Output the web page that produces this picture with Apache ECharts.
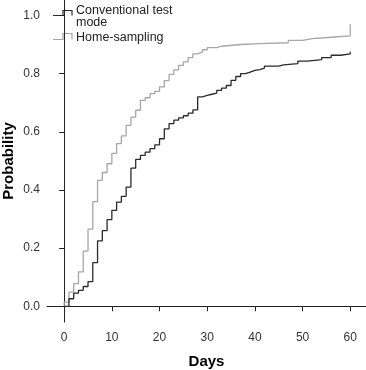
<!DOCTYPE html>
<html>
<head>
<meta charset="utf-8">
<script src="https://cdn.jsdelivr.net/npm/echarts@6/dist/echarts.min.js"></script>
<style>html,body{margin:0;padding:0;background:#fff}#c{width:366px;height:370px}</style>
</head>
<body>
<div id="c"></div>
<script>
// Conventional test mode (black)
var convDays = [0, 1, 2, 3, 4, 5, 6, 7, 8, 9, 10, 11, 12, 13, 14, 15, 16, 17, 18, 19, 20, 21, 22, 23, 24, 25, 26, 27, 28, 29, 30, 31, 32, 33, 34, 35, 36, 37, 38, 39, 40, 41, 42, 45, 46, 49, 51, 54, 56, 58, 60];
var convProb = [0, 0.026, 0.045, 0.055, 0.068, 0.085, 0.15, 0.225, 0.26, 0.298, 0.33, 0.358, 0.378, 0.41, 0.475, 0.505, 0.519, 0.53, 0.542, 0.555, 0.576, 0.61, 0.628, 0.64, 0.648, 0.655, 0.664, 0.675, 0.72, 0.725, 0.729, 0.733, 0.742, 0.75, 0.759, 0.777, 0.79, 0.80, 0.805, 0.811, 0.814, 0.819, 0.826, 0.83, 0.834, 0.843, 0.848, 0.855, 0.863, 0.868, 0.875];
// Home-sampling (gray)
var homeDays = [0, 0, 1, 2, 3, 4, 5, 6, 7, 8, 9, 10, 11, 12, 13, 14, 15, 16, 17, 18, 19, 20, 21, 22, 23, 24, 25, 26, 27, 28, 29, 30, 32, 33, 37, 41, 47, 50, 52, 56, 60];
var homeProb = [0, 0.014, 0.049, 0.078, 0.118, 0.19, 0.265, 0.36, 0.433, 0.46, 0.49, 0.526, 0.559, 0.586, 0.622, 0.65, 0.674, 0.708, 0.717, 0.731, 0.739, 0.754, 0.776, 0.797, 0.813, 0.828, 0.84, 0.855, 0.868, 0.874, 0.882, 0.889, 0.894, 0.9, 0.903, 0.906, 0.914, 0.92, 0.925, 0.93, 0.97];
var xTicks = [0, 10, 20, 30, 40, 50, 60];
var yTicks = [0, 0.2, 0.4, 0.6, 0.8, 1.0];
var seriesNames = ['Conventional test\nmode', 'Home-sampling'];

function pairs(a, b) { return a.map(function (v, i) { return [v, b[i]]; }); }

var chart = echarts.init(document.getElementById('c'), null, { renderer: 'canvas' });
var FONT = '"Liberation Sans", Arial, sans-serif';
chart.setOption({
  animation: false,
  backgroundColor: '#fff',
  grid: { left: 47, right: 0, top: 0, bottom: 48, containLabel: false, outerBoundsMode: 'none' },
  xAxis: {
    type: 'value', min: -3.6, max: 63.3,
    name: 'Days', nameLocation: 'middle', nameGap: 32, nameMoveOverlap: false,
    nameTextStyle: { fontFamily: FONT, fontSize: 15, fontWeight: 'bold', color: '#000' },
    splitLine: { show: false },
    axisLine: { show: true, lineStyle: { color: '#222', width: 1 } },
    axisTick: { show: true, length: 5, customValues: xTicks, lineStyle: { color: '#222' } },
    axisLabel: { customValues: xTicks, margin: 10, fontFamily: FONT, fontSize: 12, color: '#333' }
  },
  yAxis: {
    type: 'value', min: -0.054, max: 1.053,
    name: 'Probability', nameLocation: 'middle', nameGap: 31, nameMoveOverlap: false,
    nameTextStyle: { fontFamily: FONT, fontSize: 15, fontWeight: 'bold', color: '#000' },
    splitLine: { show: false },
    axisLine: { show: true, lineStyle: { color: '#222', width: 1 } },
    axisTick: { show: true, length: 5, customValues: yTicks, lineStyle: { color: '#222' } },
    axisLabel: { customValues: yTicks, margin: 7, fontFamily: FONT, fontSize: 12, color: '#333',
      formatter: function (v) { return v.toFixed(1); } }
  },
  series: [
    { name: seriesNames[1], type: 'line', step: 'end', showSymbol: false, symbol: 'none',
      data: pairs(homeDays, homeProb), lineStyle: { color: '#a6a6a6', width: 1.3 }, z: 2 },
    { name: seriesNames[0], type: 'line', step: 'end', showSymbol: false, symbol: 'none',
      data: pairs(convDays, convProb), lineStyle: { color: '#2a2a2a', width: 1.3 }, z: 3 }
  ],
  graphic: [
    { type: 'polyline', shape: { points: [[53, 15.5], [63, 15.5], [63, 10.5], [72, 10.5], [72, 15.5]] },
      style: { stroke: '#2a2a2a', lineWidth: 1.2, fill: null } },
    { type: 'text', left: 76, top: 4, style: { text: seriesNames[0], font: '12.5px ' + FONT, fill: '#222', lineHeight: 12 } },
    { type: 'polyline', shape: { points: [[53, 39.5], [63, 39.5], [63, 33.5], [72, 33.5], [72, 39.5]] },
      style: { stroke: '#a6a6a6', lineWidth: 1.2, fill: null } },
    { type: 'text', left: 76, top: 31.5, style: { text: seriesNames[1], font: '12.5px ' + FONT, fill: '#222' } }
  ]
});
</script>
</body>
</html>
